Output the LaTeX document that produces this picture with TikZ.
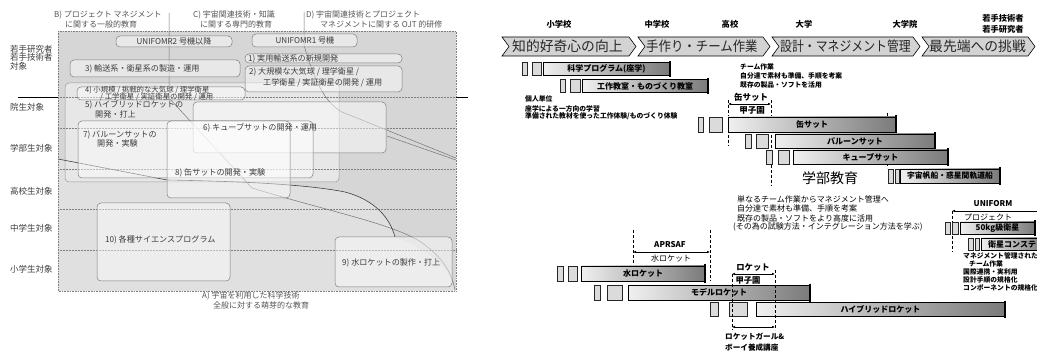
\documentclass[tikz,border=0pt]{standalone}
\usepackage{fontspec}
\setmainfont{Noto Sans CJK JP}
\usetikzlibrary{arrows.meta}
\definecolor{panelbg}{HTML}{D6D6D6}
\definecolor{regA}{HTML}{E0E0E0}
\definecolor{lightreg}{HTML}{E7E7E7}
\definecolor{txtg}{HTML}{3C3C3C}
\definecolor{titg}{HTML}{555555}
\definecolor{lineg}{HTML}{7E7E7E}
\definecolor{chev}{HTML}{D3D3D3}
\tikzset{
  lt/.style={anchor=west, inner sep=0pt, font=\fontsize{8}{9}\selectfont, text=titg},
  side/.style={anchor=west, inner sep=0pt, font=\fontsize{8.5}{9}\selectfont, text=txtg},
  bt/.style={anchor=west, inner sep=0pt, font=\fontsize{8.1}{8}\selectfont, text=txtg},
  rbox/.style={draw=lineg, fill=white, fill opacity=0.45, rounded corners=4pt, line width=0.5pt},
  sepline/.style={draw=gray, densely dotted, line width=0.5pt},
  bound/.style={draw=black!55, line width=0.5pt},
  bar/.style={draw=black, line width=0.6pt, left color=black!6, right color=black!52, inner sep=0pt, font=\bfseries\fontsize{8}{9}\selectfont},
  sbox/.style={draw=black!85, fill=black!14, line width=0.6pt},
  endl/.style={line width=1.8pt},
  dsh/.style={dash pattern=on 3pt off 2pt, line width=0.8pt},
  dar/.style={{Latex[length=3pt,width=2.6pt]}-{Latex[length=3pt,width=2.6pt]}, line width=0.7pt},
  note/.style={anchor=west, inner sep=0pt, font=\bfseries\fontsize{6.8}{7}\selectfont},
  mnote/.style={anchor=west, inner sep=0pt, font=\fontsize{8}{9}\selectfont},
  lvl/.style={inner sep=0pt, align=center, font=\bfseries\fontsize{8.3}{11}\selectfont},
  chv/.style={draw=black, fill=chev, line width=0.6pt},
  chtxt/.style={anchor=west, inner sep=0pt, font=\fontsize{13.8}{15}\selectfont, text=black!85},
  atxt/.style={inner sep=0pt, font=\fontsize{8}{9}\selectfont},
}
\begin{document}
\begin{tikzpicture}[x=1pt,y=-1pt]
\useasboundingbox (0,0) rectangle (1037,358);
\fill[white] (0,0) rectangle (1037,358);

% ================= LEFT PANEL =================
\fill[panelbg] (58,31) rectangle (456,291);
\fill[regA] (58,159) -- (167,180) .. controls (220,181) and (300,183) .. (345,192)
   .. controls (375,200) and (390,218) .. (395,237)
   .. controls (425,250) and (450,265) .. (455,291) -- (58,291) -- cycle;
\draw[draw=lineg!80, fill=lightreg, rounded corners=4pt, line width=0.5pt] (65,83) rectangle (339,182);

% target rows separators
\draw[sepline] (58,97) -- (456,97);
\draw[sepline] (58,128) -- (456,128);
\draw[sepline] (58,169) -- (456,169);
\draw[sepline] (58,209) -- (456,209);
\draw[sepline] (58,250) -- (456,250);

% region boundaries
\draw[bound] (169,13) -- (169,98) -- (252,188) .. controls (330,212) and (400,225) .. (425,245) .. controls (445,260) and (452,275) .. (455,290);
\draw[bound] (304,12) -- (304,45) .. controls (314,80) and (325,103) .. (342,112) -- (456,158);
\draw[bound] (387,136) -- (456,160);
\draw[draw=black!75, line width=0.6pt] (58,159) -- (167,180) .. controls (220,181) and (300,183) .. (345,192)
   .. controls (375,200) and (390,218) .. (395,237);

% outer dotted frame
\draw[draw=gray, densely dotted, line width=0.6pt] (58,31) rectangle (456,291);
\draw[line width=0.7pt] (18,97) -- (58,97);
\draw[line width=0.7pt] (456,97) -- (468,97);

% boxes
\draw[rbox] (116,36) rectangle (232,47);
\draw[rbox] (252,34) rectangle (357,47);
\draw[rbox] (245,54) rectangle (402,63);
\draw[rbox] (245,66) rectangle (402,92);
\draw[rbox] (70,60) rectangle (240,77);
\draw[rbox] (77,87) rectangle (245,100);
\draw[rbox] (193,102) rectangle (386,153);
\draw[rbox] (78,121) rectangle (313,178);
\draw[rbox] (167,121) rectangle (290,198);
\draw[rbox] (97,203) rectangle (230,281);
\draw[rbox] (335,237) rectangle (452,287);

% box texts
\node[bt, anchor=center] (u2) at (174,41.5) {UNIFOMR2 号機以降};
\node[bt, anchor=center] (u1) at (305,40.5) {UNIFOMR1 号機};
\node[bt] (t1) at (248,58.5) {1) 実用輸送系の新規開発};
\node[bt] (t2a) at (249,72) {2) 大規模な大気球 / 理学衛星 /};
\node[bt] (t2b) at (263,83) {工学衛星 / 実証衛星の開発 / 運用};
\node[bt] (t3) at (85,68.5) {3) 輸送系・衛星系の製造・運用};
\node[bt, font=\fontsize{7.4}{8}\selectfont] (t4a) at (85,90.5) {4) 小規模 / 挑戦的な大気球 / 理学衛星};
\node[bt, font=\fontsize{7.4}{8}\selectfont] (t4b) at (100,96.8) {/ 工学衛星 / 実証衛星の開発 / 運用};
\node[bt] (t5a) at (85,104.5) {5) ハイブリッドロケットの};
\node[bt] (t5b) at (95,114) {開発・打上};
\node[bt] (t6) at (203,128) {6) キューブサットの開発・運用};
\node[bt] (t7a) at (83,135) {7) バルーンサットの};
\node[bt] (t7b) at (97,143.5) {開発・実験};
\node[bt] (t8) at (175,173) {8) 缶サットの開発・実験};
\node[bt] (t9) at (342,263) {9) 水ロケットの製作・打上};
\node[bt] (t10) at (105,240) {10) 各種サイエンスプログラム};

% titles
\node[lt] (tB1) at (54,15) {B) プロジェクト マネジメント};
\node[lt] (tB2) at (65,24) {に関する一般的教育};
\node[lt] (tC1) at (193,15) {C) 宇宙関連技術・知識};
\node[lt] (tC2) at (200,24) {に関する専門的教育};
\node[lt] (tD1) at (306,15) {D) 宇宙関連技術とプロジェクト};
\node[lt] (tD2) at (320,24) {マネジメントに関する OJT 的研修};
\node[lt] (tA1) at (202,295.5) {A) 宇宙を利用した科学技術};
\node[lt] (tA2) at (213,305) {全般に対する萌芽的な教育};

% side labels
\node[side] (s1a) at (10,49) {若手研究者};
\node[side] (s1b) at (10,57.5) {若手技術者};
\node[side] (s1c) at (10,66) {対象};
\node[side] (s2) at (10,107) {院生対象};
\node[side] (s3) at (10,148) {学部生対象};
\node[side] (s4) at (10,191) {高校生対象};
\node[side] (s5) at (10,228) {中学生対象};
\node[side] (s6) at (10,269) {小学生対象};

% ================= RIGHT PANEL =================
% level labels
\node[lvl] (lv1) at (559,24) {小学校};
\node[lvl] (lv2) at (657,24) {中学校};
\node[lvl] (lv3) at (730,24) {高校};
\node[lvl] (lv4) at (804,24) {大学};
\node[lvl] (lv5) at (905,24) {大学院};
\node[lvl] (lv6) at (1003,23.5) {若手技術者\\若手研究者};

% chevrons
\draw[chv] (502,37) -- (629,37) -- (636,46.5) -- (629,56) -- (502,56) -- (509,46.5) -- cycle;
\draw[chv] (638,37) -- (763,37) -- (770,46.5) -- (763,56) -- (638,56) -- (645,46.5) -- cycle;
\draw[chv] (772,37) -- (913,37) -- (920,46.5) -- (913,56) -- (772,56) -- (779,46.5) -- cycle;
\draw[chv] (922,37) -- (1028,37) -- (1035,46.5) -- (1028,56) -- (922,56) -- (929,46.5) -- cycle;
\node[chtxt] (c1) at (512,46.5) {知的好奇心の向上};
\node[chtxt] (c2) at (646,46.5) {\scalebox{0.9}[1]{手作り・チーム作業}};
\node[chtxt] (c3) at (780,46.5) {\scalebox{0.86}[1]{設計・マネジメント管理}};
\node[chtxt] (c4) at (929,46.5) {最先端への挑戦};

% row: 科学プログラム
\draw[sbox] (522,62.5) rectangle (527,75.5);
\draw[sbox] (532,62.5) rectangle (541,75.5);
\node[bar, minimum width=127pt, minimum height=13pt] (kagaku) at (606.5,69) {科学プログラム(座学)};
\draw[endl] ([yshift=1.5pt]kagaku.north east) -- ([yshift=-1.5pt]kagaku.south east);

% row: 工作教室
\draw[sbox] (560,79.5) rectangle (565,92.5);
\draw[sbox] (570,79.5) rectangle (580,92.5);
\node[bar, minimum width=126pt, minimum height=13pt] (kosaku) at (645,86) {工作教室・ものづくり教室};
\draw[endl] ([yshift=1.5pt]kosaku.north east) -- ([yshift=-1.5pt]kosaku.south east);

% notes
\node[note] (n1) at (525,99) {個人単位};
\node[note] (n2) at (525,109) {座学による一方向の学習};
\node[note] (n3) at (525,116.5) {準備された教材を使った工作体験/ものづくり体験};
\node[note] (n4) at (740,67) {チーム作業};
\node[note] (n5) at (740,76) {自分達で素材も準備、手順を考案};
\node[note] (n6) at (740,85) {既存の製品・ソフトを活用};

% 缶サット甲子園
\node[atxt, font=\bfseries\fontsize{8.5}{9}\selectfont] (ks1) at (751,97) {缶サット};
\node[atxt, font=\bfseries\fontsize{8.5}{9}\selectfont] (ks2) at (752,110.5) {甲子園};
\coordinate (ka1) at (728,104);
\coordinate (ka2) at (771,104);
\draw[dar] (ka1) -- (ka2);
\draw[dsh] (728,100) -- (728,146);
\draw[dsh] (771,100) -- (771,186);
\draw[dsh] (887,113) -- (887,168);

% row: 缶サット
\draw[sbox] (698,117) rectangle (703,132);
\draw[sbox] (709,117) rectangle (722,132);
\node[bar, minimum width=168pt, minimum height=15pt] (cansat) at (812,124.5) {缶サット};
\draw[endl] ([yshift=1.5pt]cansat.north east) -- ([yshift=-1.5pt]cansat.south east);

% row: バルーンサット
\draw[sbox] (745,134) rectangle (751,148);
\draw[sbox] (756,134) rectangle (768,148);
\node[bar, minimum width=160pt, minimum height=14pt] (balloon) at (855,141) {バルーンサット};
\draw[endl] ([yshift=1.5pt]balloon.north east) -- ([yshift=-1.5pt]balloon.south east);

% row: キューブサット
\draw[sbox] (766,150) rectangle (772,164);
\draw[sbox] (778,150) rectangle (789,164);
\node[bar, minimum width=155pt, minimum height=14pt] (cube) at (870.5,157) {キューブサット};
\draw[endl] ([yshift=1.5pt]cube.north east) -- ([yshift=-1.5pt]cube.south east);

% 学部教育
\node[atxt, font=\fontsize{14}{15}\selectfont] (gakubu) at (830,178) {学部教育};

% row: 宇宙帆船
\draw[sbox] (888,169) rectangle (893,183);
\draw[sbox] (895,169) rectangle (899,183);
\node[bar, minimum width=100pt, minimum height=14pt, font=\bfseries\fontsize{7.8}{8}\selectfont] (hansen) at (950,176) {宇宙帆船・惑星間軌道船};
\draw[endl] ([yshift=1.5pt]hansen.north east) -- ([yshift=-1.5pt]hansen.south east);

% middle notes
\node[mnote] (m1) at (737,199) {単なるチーム作業からマネジメント管理へ};
\node[mnote] (m2) at (737,208.5) {自分達で素材も準備、手順を考案};
\node[mnote] (m3) at (737,218) {既存の製品・ソフトをより高度に活用};
\node[mnote] (m4) at (733,227) {(その為の試験方法・インテグレーション方法を学ぶ)};

% UNIFORM project
\node[atxt, font=\bfseries\fontsize{8}{9}\selectfont] (uni1) at (993,204) {UNIFORM};
\node[atxt] (uni2) at (988,217.5) {プロジェクト};
\coordinate (ua1) at (952,211);
\coordinate (ua2) at (1040,211);
\draw[{Latex[length=3pt,width=2.6pt]}-, line width=0.7pt] (ua1) -- (ua2);
\draw[dsh] (952,211) -- (952,252);

% row: 50kg級衛星
\draw[sbox] (945,222) rectangle (950,234);
\draw[sbox] (952,222) rectangle (958,234);
\node[bar, minimum width=75pt, minimum height=12pt] (kg50) at (997.5,228) {50kg級衛星};
\draw[endl] ([yshift=1.5pt]kg50.north east) -- ([yshift=-1.5pt]kg50.south east);

% row: 衛星コンステ
\draw[sbox] (968,238) rectangle (973,250);
\draw[sbox] (975,238) rectangle (979,250);
\path[bar] (981,238) rectangle (1045,250);
\node[atxt, anchor=west, font=\bfseries\fontsize{8}{9}\selectfont] (conste) at (988,244) {衛星コンステ};

% UNIFORM notes
\node[note] (u3) at (963,256) {マネジメント管理された};
\node[note] (u4) at (969,263.5) {チーム作業};
\node[note] (u5) at (963,271.5) {国際連携・実利用};
\node[note] (u6) at (963,279.5) {設計手順の規格化};
\node[note] (u7) at (963,287.5) {コンポーネントの規格化};

% APRSAF
\node[atxt, font=\bfseries\fontsize{8}{9}\selectfont] (ap1) at (670,245) {APRSAF};
\node[atxt] (ap2) at (671,258.5) {水ロケット};
\coordinate (apa) at (633,252);
\coordinate (apb) at (710,252);
\draw[dar] (apa) -- (apb);
\draw[dsh] (633,230) -- (633,263);
\draw[dsh] (710,230) -- (710,281);

% row: 水ロケット
\draw[sbox] (557,266) rectangle (563,281);
\draw[sbox] (568,266) rectangle (577,281);
\node[bar, minimum width=124pt, minimum height=15pt] (mizu) at (643,273.5) {水ロケット};
\draw[endl] ([yshift=1.5pt]mizu.north east) -- ([yshift=-1.5pt]mizu.south east);

% ロケット甲子園
\node[atxt, font=\bfseries\fontsize{8.3}{9}\selectfont] (rk1) at (753,268) {ロケット};
\node[atxt, font=\bfseries\fontsize{8.3}{9}\selectfont] (rk2) at (748,280.5) {甲子園};
\coordinate (rka) at (732,274);
\coordinate (rkb) at (775,274);
\draw[dar] (rka) -- (rkb);

% row: モデルロケット
\draw[sbox] (594,285.5) rectangle (600,300);
\draw[sbox] (607,285.5) rectangle (622,300);
\node[bar, minimum width=182pt, minimum height=14.5pt] (model) at (719,292.75) {モデルロケット};
\draw[endl] ([yshift=1.5pt]model.north east) -- ([yshift=-1.5pt]model.south east);

% row: ハイブリッドロケット
\draw[sbox] (710,302.5) rectangle (718,316.5);
\draw[sbox] (729,302.5) rectangle (747,316.5);
\node[bar, minimum width=249pt, minimum height=14pt] (hybrid) at (880.5,309.5) {ハイブリッドロケット};
\draw[endl] ([yshift=1.5pt]hybrid.north east) -- ([yshift=-1.5pt]hybrid.south east);

% rocket girl
\draw[dsh] (732,274) -- (732,330);
\draw[dsh] (775,270) -- (775,330);
\coordinate (rga) at (732,327);
\coordinate (rgb) at (775,327);
\draw[dar] (rga) -- (rgb);
\node[note, font=\bfseries\fontsize{7.6}{8}\selectfont] (rg1) at (725,337) {ロケットガール\&};
\node[note, font=\bfseries\fontsize{7.6}{8}\selectfont] (rg2) at (725,347.5) {ボーイ養成講座};
\end{tikzpicture}
\end{document}
